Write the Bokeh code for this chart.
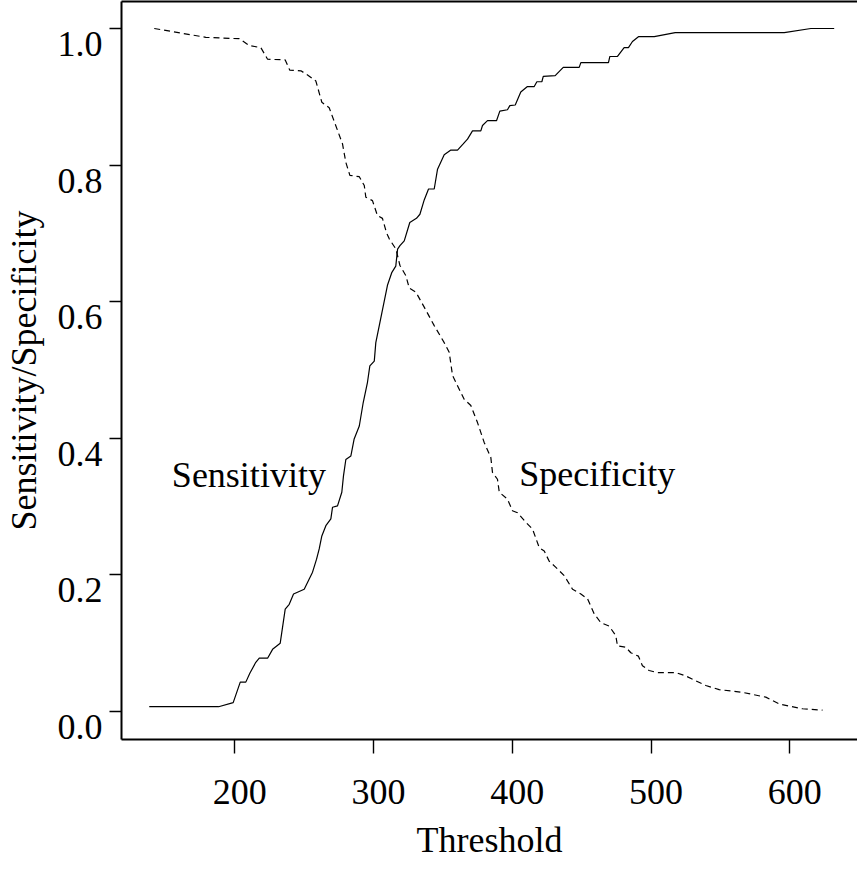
from bokeh.plotting import figure
from bokeh.models import LinearAxis, Range1d, FixedTicker
from bokeh.core.properties import value
from bokeh.embed import file_html
from bokeh.resources import INLINE

# ---- data ----
threshold_sens = [138.3, 188.3, 198.8, 203.9, 207.9, 210.8, 215.1, 217.6, 223.6, 227.2,
                  232.7, 236.3, 239.2, 242.3, 250.0, 253.6, 256.0, 258.9, 260.8, 262.7,
                  265.6, 269.2, 270.4, 274.0, 277.1, 278.3, 280.0, 283.6, 286.0, 289.7,
                  292.5, 295.6, 297.3, 300.5, 301.6, 304.1, 306.0, 310.0, 313.2, 316.0,
                  317.3, 319.0, 322.1, 326.1, 330.9, 333.4, 336.5, 339.6, 343.7, 346.1,
                  350.9, 355.7, 360.5, 364.6, 367.7, 371.3, 377.3, 378.5, 382.1, 388.6,
                  391.0, 396.5, 398.2, 402.1, 406.1, 410.9, 415.8, 417.7, 421.3, 422.3,
                  430.9, 436.7, 448.2, 449.4, 469.3, 470.3, 475.8, 480.6, 483.7, 486.6,
                  490.9, 502.3, 517.4, 596.0, 615.2, 632.0]
sensitivity = [0.007, 0.007, 0.013, 0.043, 0.043, 0.056, 0.072, 0.078, 0.078, 0.091,
               0.100, 0.150, 0.157, 0.172, 0.179, 0.194, 0.204, 0.223, 0.238, 0.257,
               0.272, 0.282, 0.299, 0.301, 0.321, 0.345, 0.369, 0.374, 0.399, 0.418,
               0.452, 0.482, 0.506, 0.513, 0.540, 0.565, 0.584, 0.624, 0.643, 0.652,
               0.677, 0.682, 0.689, 0.716, 0.722, 0.728, 0.749, 0.765, 0.765, 0.794,
               0.815, 0.822, 0.822, 0.831, 0.838, 0.850, 0.850, 0.858, 0.865, 0.865,
               0.879, 0.881, 0.887, 0.888, 0.907, 0.915, 0.915, 0.922, 0.922, 0.930,
               0.931, 0.943, 0.943, 0.950, 0.950, 0.959, 0.959, 0.972, 0.972, 0.981,
               0.988, 0.988, 0.994, 0.994, 1.000, 1.000]

threshold_spec = [141.9, 179.1, 203.2, 210.4, 218.7, 223.6, 236.3, 239.6, 247.6, 252.4,
                  258.4, 262.7, 268.0, 277.6, 280.0, 282.9, 289.7, 293.3, 294.4, 299.2,
                  302.8, 306.4, 309.3, 311.3, 316.1, 319.0, 323.3, 325.7, 330.5, 336.5,
                  343.7, 350.9, 354.5, 356.9, 360.5, 365.3, 370.1, 374.9, 379.7, 384.5,
                  385.7, 389.3, 390.6, 396.5, 400.1, 403.7, 409.7, 414.6, 419.4, 423.0,
                  426.6, 431.4, 437.4, 443.4, 449.4, 454.2, 459.0, 463.8, 469.8, 474.6,
                  475.8, 481.8, 485.4, 490.9, 493.8, 498.6, 504.6, 517.8, 525.0, 539.5,
                  549.1, 565.9, 582.7, 592.4, 609.2, 623.6]
specificity = [1.000, 0.987, 0.985, 0.975, 0.972, 0.955, 0.954, 0.939, 0.938, 0.932,
               0.923, 0.892, 0.884, 0.831, 0.804, 0.785, 0.783, 0.770, 0.753, 0.748,
               0.726, 0.722, 0.701, 0.692, 0.677, 0.653, 0.638, 0.620, 0.614, 0.592,
               0.565, 0.540, 0.526, 0.492, 0.477, 0.457, 0.448, 0.423, 0.394, 0.372,
               0.350, 0.340, 0.321, 0.311, 0.294, 0.291, 0.277, 0.267, 0.240, 0.235,
               0.220, 0.211, 0.199, 0.179, 0.172, 0.165, 0.143, 0.130, 0.125, 0.111,
               0.096, 0.094, 0.086, 0.081, 0.067, 0.060, 0.057, 0.057, 0.052, 0.038,
               0.032, 0.028, 0.021, 0.011, 0.004, 0.002]

x_ticks = [200, 300, 400, 500, 600]
y_ticks = [0.0, 0.2, 0.4, 0.6, 0.8, 1.0]
y_tick_labels = ["0.0", "0.2", "0.4", "0.6", "0.8", "1.0"]
series_labels = ["Sensitivity", "Specificity"]
series_label_x = [154.6, 405.0]
series_label_y = [0.346, 0.347]
x_title = "Threshold"
y_title = "Sensitivity/Specificity"

# ---- layout / style constants ----
X_START, X_END = 118.3, 648.8
Y_START, Y_END = -0.041, 1.0395
LABEL_DX = 3.6      # tick labels sit slightly right of their ticks
LABEL_DY = 0.0227   # y tick labels sit slightly below their ticks
FONT = "Liberation Serif"
FS = "36px"

p = figure(width=857, height=863,
           x_range=Range1d(X_START, X_END), y_range=Range1d(Y_START, Y_END),
           x_axis_type=None, y_axis_type=None,
           output_backend="svg", toolbar_location=None,
           min_border_left=121, min_border_right=0,
           min_border_top=1, min_border_bottom=124)
p.outline_line_color = None
p.background_fill_color = "white"
p.border_fill_color = "white"

p.extra_x_ranges = {"xlab": Range1d(X_START - LABEL_DX, X_END - LABEL_DX)}
p.extra_y_ranges = {"ylab": Range1d(Y_START + LABEL_DY, Y_END + LABEL_DY)}

def tick_axis(ax, tick_out):
    ax.axis_line_color = "black"
    ax.axis_line_width = 2
    ax.major_tick_line_color = "black"
    ax.major_tick_line_width = 1.4
    ax.major_tick_in = 0
    ax.major_tick_out = tick_out
    ax.minor_tick_line_color = None
    ax.major_label_text_color = None
    ax.major_label_standoff = 0

def label_axis(ax, standoff, title, title_standoff):
    ax.axis_line_color = None
    ax.major_tick_line_color = None
    ax.minor_tick_line_color = None
    ax.major_tick_in = 0
    ax.major_tick_out = 0
    ax.major_label_standoff = standoff
    ax.major_label_text_font = FONT
    ax.major_label_text_font_size = FS
    ax.major_label_text_color = "black"
    ax.axis_label = title
    ax.axis_label_standoff = title_standoff
    ax.axis_label_text_font = FONT
    ax.axis_label_text_font_size = FS
    ax.axis_label_text_font_style = "normal"
    ax.axis_label_text_color = "black"

# inner axes: box lines + tick marks
xa = LinearAxis(ticker=FixedTicker(ticks=x_ticks))
tick_axis(xa, 14)
p.add_layout(xa, "below")
ya = LinearAxis(ticker=FixedTicker(ticks=y_ticks))
tick_axis(ya, 12)
p.add_layout(ya, "left")
top = LinearAxis(ticker=FixedTicker(ticks=[]))
tick_axis(top, 0)
p.add_layout(top, "above")

# outer axes: tick labels and axis titles
xl = LinearAxis(ticker=FixedTicker(ticks=x_ticks), x_range_name="xlab")
label_axis(xl, 26, x_title, 13)
p.add_layout(xl, "below")
yl = LinearAxis(ticker=FixedTicker(ticks=y_ticks), y_range_name="ylab",
                major_label_overrides={t: s for t, s in zip(y_ticks, y_tick_labels)})
label_axis(yl, 7, y_title, 11)
p.add_layout(yl, "left")

p.line(threshold_sens, sensitivity, line_color="black", line_width=1.2)
p.line(threshold_spec, specificity, line_color="black", line_width=1.2, line_dash="6 4")

p.text(x=series_label_x, y=series_label_y, text=series_labels,
       text_font=value(FONT), text_font_size=FS, text_color="black",
       text_align="left", text_baseline="middle")

open("out.html", "w").write(file_html(p, INLINE))
